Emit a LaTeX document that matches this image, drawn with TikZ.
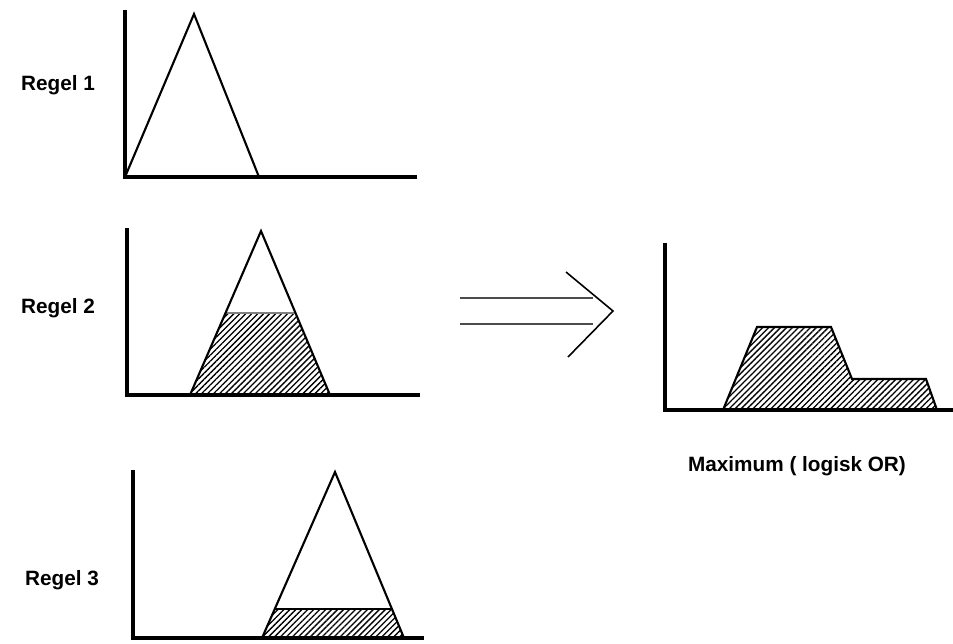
\documentclass[tikz,border=0pt]{standalone}
\usepackage{fontspec}
\setmainfont{Liberation Sans}
\usetikzlibrary{patterns.meta}

\tikzstyle{axis} = [line width=1.9pt]
\tikzstyle{curve} = [line width=1.2pt, line join=miter]
\tikzstyle{hatch} = [pattern={Lines[angle=45, distance=2.4pt, line width=0.75pt]}]
\tikzstyle{label} = [font=\fontsize{11.8}{14}\selectfont\bfseries]

\begin{document}
\begin{tikzpicture}[x=0.02cm, y=-0.02cm]
\useasboundingbox (0,0) rectangle (953,643);

% Regel 1
\node (r1) [label] at (58,85) {Regel 1};
\draw [axis] (125,10) -- (125,177) -- (417,177);
\draw [curve] (125,177) -- (194,14) -- (259,177);

% Regel 2
\node (r2) [label] at (58,308) {Regel 2};
\fill [hatch] (190,395) -- (225.5,313) -- (295.5,313) -- (330,395) -- cycle;
\draw [line width=0.6pt, gray] (225.5,313) -- (295.5,313);
\draw [axis] (127,228) -- (127,395) -- (420,395);
\draw [curve] (190,395) -- (261,231) -- (330,395);

% Regel 3
\node (r3) [label] at (62,580) {Regel 3};
\fill [hatch] (262,638) -- (274.8,609) -- (392,609) -- (404,638) -- cycle;
\draw [curve] (274.8,609) -- (392,609);
\draw [axis] (133,470) -- (133,638) -- (424,638);
\draw [curve] (262,638) -- (335,472) -- (404,638);

% pil
\draw [line width=0.8pt, gray!60!black] (460,298) -- (593,298);
\draw [line width=0.8pt, gray!60!black] (460,324) -- (593,324);
\draw [line width=0.9pt] (566,272) -- (613,311) -- (568,357);

% resultat
\node (max) [label] at (797,466) {Maximum ( logisk OR)};
\fill [hatch] (723,410) -- (757,327) -- (831,327) -- (852,379) -- (926,379) -- (937,410) -- cycle;
\draw [curve] (723,410) -- (757,327) -- (831,327) -- (852,379) -- (926,379) -- (937,410);
\draw [axis] (665,243) -- (665,410) -- (953,410);

\end{tikzpicture}
\end{document}
